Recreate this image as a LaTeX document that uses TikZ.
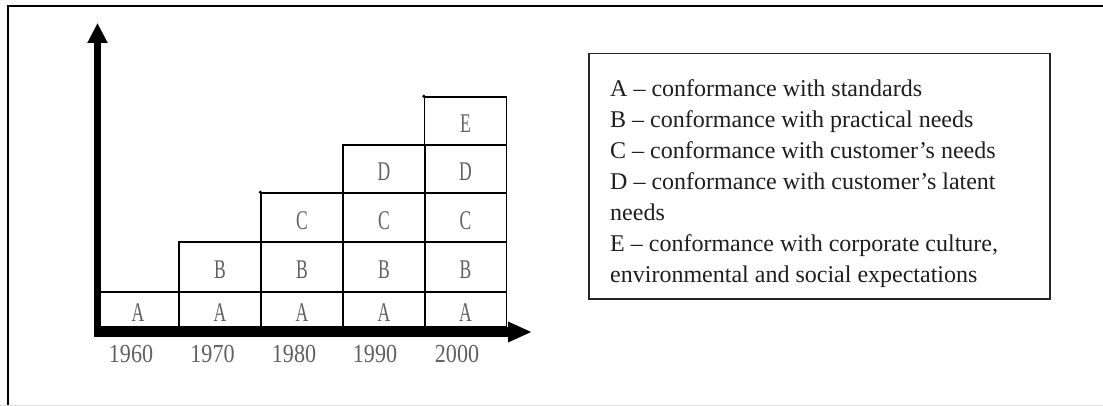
\documentclass[tikz,border=0pt]{standalone}
\usepackage{fontspec}
\setmainfont{Liberation Serif}
\newfontfamily\cellfont[FakeStretch=0.65]{Liberation Serif}
\newfontfamily\yearfont[FakeStretch=0.85]{Liberation Serif}
\usetikzlibrary{arrows.meta}
\definecolor{inkgray}{HTML}{606060}
\definecolor{legendink}{HTML}{1E1E1E}
\tikzset{
  frameline/.style={line width=2pt, black},
  axisline/.style={black, line cap=butt},
  cell/.style={draw=black, line width=1.4pt, minimum width=82pt, inner sep=0pt,
    text=inkgray, font=\cellfont\fontsize{27}{27}\selectfont},
  letter/.style={text=inkgray, inner sep=0pt, font=\cellfont\fontsize{27}{27}\selectfont},
  yearlabel/.style={text=inkgray, inner sep=0pt, font=\yearfont\fontsize{26}{26}\selectfont},
  corner/.style={circle, fill=black, inner sep=0pt, minimum size=3.5pt},
  legendbox/.style={draw=black!85, line width=1.5pt, anchor=north west,
    minimum width=461pt, minimum height=245pt, inner sep=0pt},
  legendtext/.style={anchor=north west, align=left, inner sep=0pt, text=legendink,
    font=\fontsize{24}{31}\selectfont},
}
\begin{document}
\begin{tikzpicture}[x=1pt, y=-1pt]
  \useasboundingbox (0,0) rectangle (1103,406);

  % outer frame
  \coordinate (fbl) at (8,406);
  \coordinate (ftl) at (8,6);
  \coordinate (ftr) at (1103,6);
  \draw[frameline] (fbl) -- (ftl) -- (ftr);
  \coordinate (bl) at (0,405);
  \coordinate (br) at (1103,405);
  \draw[line width=1pt, black!12] (bl) -- (br);

  % row A
  \node[cell, minimum height=35pt] (a60) at (138,309.5) {};
  \node[cell, minimum height=35pt] (a70) at (220,309.5) {};
  \node[cell, minimum height=35pt] (a80) at (302,309.5) {};
  \node[cell, minimum height=35pt] (a90) at (384,309.5) {};
  \node[cell, minimum height=35pt] (a00) at (465.5,309.5) {};
  % row B
  \node[cell, minimum height=50pt] (b70) at (220,267) {};
  \node[cell, minimum height=50pt] (b80) at (302,267) {};
  \node[cell, minimum height=50pt] (b90) at (384,267) {};
  \node[cell, minimum height=50pt] (b00) at (465.5,267) {};
  % row C
  \node[cell, minimum height=49pt] (c80) at (302,217.5) {};
  \node[cell, minimum height=49pt] (c90) at (384,217.5) {};
  \node[cell, minimum height=49pt] (c00) at (465.5,217.5) {};
  % row D
  \node[cell, minimum height=48pt] (d90) at (384,169) {};
  \node[cell, minimum height=48pt] (d00) at (465.5,169) {};
  % row E
  \node[cell, minimum height=48pt] (e00) at (465.5,121) {};

  % cell letters, set a little below each cell's centre
  \foreach \c/\t in {a60/A,a70/A,a80/A,a90/A,a00/A,b70/B,b80/B,b90/B,b00/B,
                     c80/C,c90/C,c00/C,d90/D,d00/D,e00/E}
    \node[letter, yshift=-3pt] (l\c) at (\c.center) {\t};

  % small corner dots
  \node[corner] (dotc) at (c80.north west) {};
  \node[corner] (dote) at (e00.north west) {};

  % axes
  \coordinate (yfoot) at (97.5,337);
  \coordinate (ytip) at (97.5,23);
  \coordinate (xfoot) at (94,332);
  \coordinate (xtip) at (532,332);
  \draw[axisline, line width=7pt, -{Triangle[length=20pt, width=19pt]}] (yfoot) -- (ytip);
  \draw[axisline, line width=10pt, -{Triangle[length=24pt, width=19pt]}] (xfoot) -- (xtip);

  % decade labels
  \node[yearlabel] (y60) at (131,354) {1960};
  \node[yearlabel] (y70) at (212.5,354) {1970};
  \node[yearlabel] (y80) at (294,354) {1980};
  \node[yearlabel] (y90) at (375,354) {1990};
  \node[yearlabel] (y00) at (457,354) {2000};

  % legend
  \node[legendbox] (legend) at (588,53) {};
  \node[legendtext] (legtext) at (610,79) {%
    A – conformance with standards\\
    B – conformance with practical needs\\
    C – conformance with customer’s needs\\
    D – conformance with customer’s latent\\
    needs\\
    E – conformance with corporate culture,\\
    environmental and social expectations};
\end{tikzpicture}
\end{document}
